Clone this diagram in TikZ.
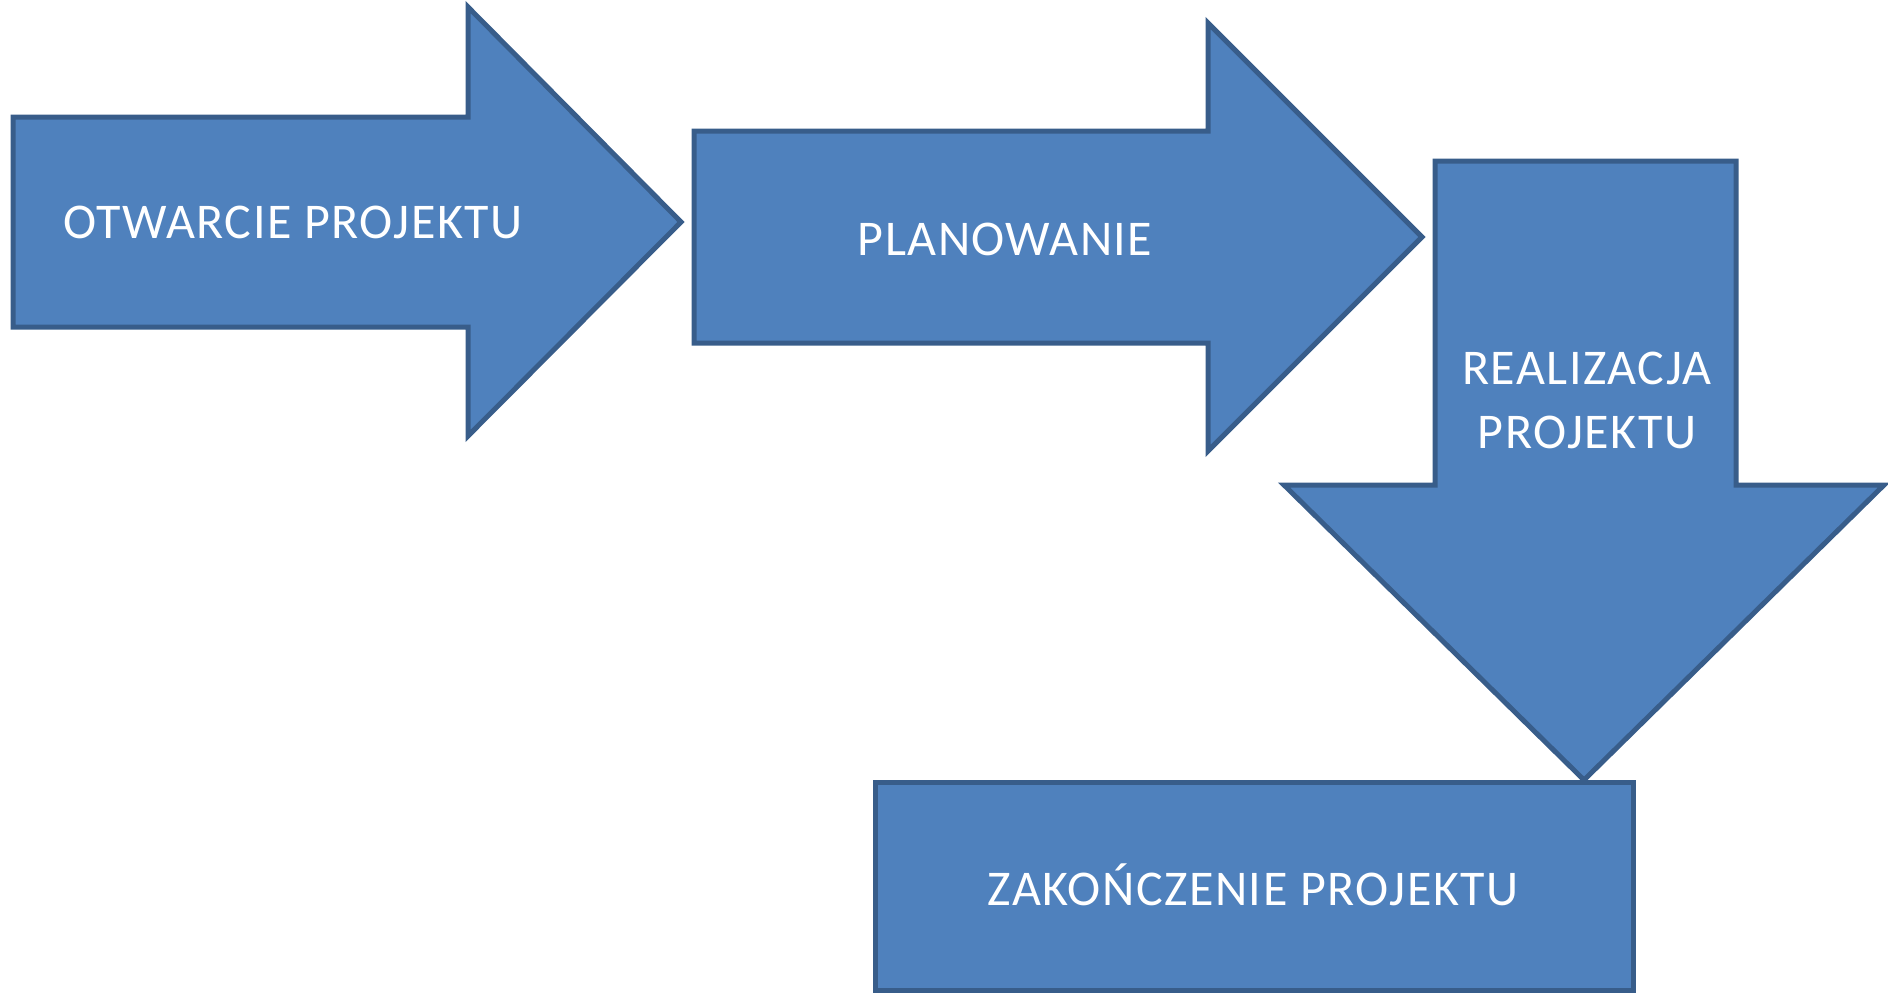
\documentclass[tikz,border=0pt]{standalone}
\usepackage{fontspec}
\setmainfont{Carlito}[LetterSpace=3]
\definecolor{shapefill}{HTML}{4F81BD}
\definecolor{shapeline}{HTML}{385D8A}
\begin{document}
\begin{tikzpicture}[x=1pt,y=-1pt,
  blockshape/.style={fill=shapefill,draw=shapeline,line width=5pt,line join=miter},
  label/.style={text=white,font=\fontsize{50}{64}\selectfont,anchor=base,inner sep=0pt}]
\useasboundingbox (0,0) rectangle (1888,993);
% arrow 1
\path[blockshape] (13,117) -- (468,117) -- (468,7) -- (681,222) -- (468,436) -- (468,327) -- (13,327) -- cycle;
% arrow 2
\path[blockshape] (694,131) -- (1208,131) -- (1208,23) -- (1422,237) -- (1208,451) -- (1208,343) -- (694,343) -- cycle;
% arrow 3 (down)
\path[blockshape] (1435,161) -- (1736,161) -- (1736,485) -- (1884,485) -- (1584,780) -- (1284,485) -- (1435,485) -- cycle;
% box 4
\path[blockshape] (875,782) rectangle (1633,990);
\node[label] (t1) at (293,238) {OTWARCIE PROJEKTU};
\node[label] (t2) at (1005,255) {PLANOWANIE};
\node[label] (t3a) at (1587,384) {REALIZACJA};
\node[label] (t3b) at (1587,448) {PROJEKTU};
\node[label] (t4) at (1253,905) {ZAKOŃCZENIE PROJEKTU};
\end{tikzpicture}
\end{document}
